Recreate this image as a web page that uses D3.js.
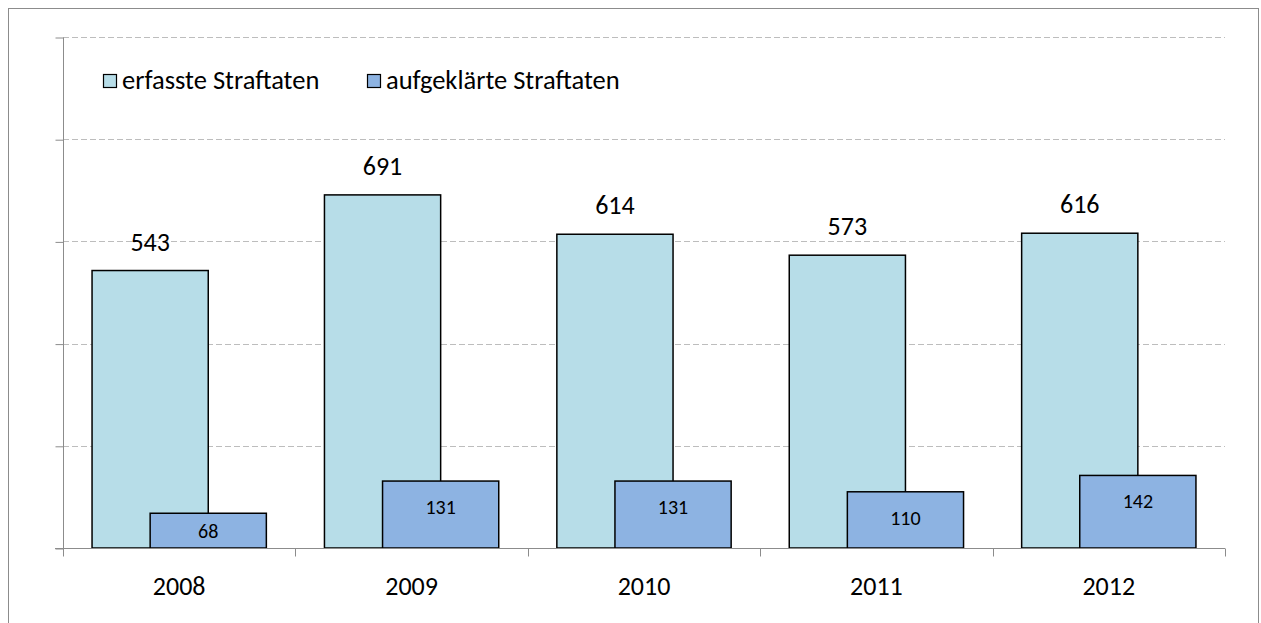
<!DOCTYPE html>
<html>
<head>
<meta charset="utf-8">
<script src="https://cdn.jsdelivr.net/npm/d3@7"></script>
<style>
  body { margin: 0; background: #fff; }
  text { font-family: Carlito, Calibri, Lato, sans-serif; fill: #000; }
</style>
</head>
<body>
<div id="main"></div>
<script>
var years = ["2008", "2009", "2010", "2011", "2012"];
var erfasst = [543, 691, 614, 573, 616];
var aufgeklaert = [68, 131, 131, 110, 142];
var seriesNames = ["erfasste Straftaten", "aufgeklärte Straftaten"];
var yTicks = [0, 200, 400, 600, 800, 1000];

var colors = ["#B7DDE8", "#8DB3E2"];

var svg = d3.select("#main").append("svg")
  .attr("width", 1261)
  .attr("height", 623);

// outer frame
svg.append("rect")
  .attr("x", 8.5).attr("y", 8.5)
  .attr("width", 1250).attr("height", 620)
  .attr("fill", "none")
  .attr("stroke", "#8c8c8c")
  .attr("stroke-width", 1);

var plotLeft = 63, plotRight = 1225, plotTop = 37, plotBottom = 548;

var x = d3.scaleBand().domain(years).range([plotLeft, plotRight]);
var y = d3.scaleLinear().domain([0, 1000]).range([plotBottom, plotTop]);

// gridlines
svg.append("g").selectAll("line").data(yTicks.slice(1)).enter().append("line")
  .attr("x1", plotLeft).attr("x2", plotRight)
  .attr("y1", function(d) { return Math.round(y(d)) + 0.5; })
  .attr("y2", function(d) { return Math.round(y(d)) + 0.5; })
  .attr("stroke", "#bdbdbd")
  .attr("stroke-dasharray", "6,3");

// y axis (no labels)
var yAxis = d3.axisLeft(y).tickValues(yTicks).tickSize(8).tickFormat("");
var gy = svg.append("g").attr("transform", "translate(" + (plotLeft + 0.5) + ",0.5)").call(yAxis);
gy.select(".domain").attr("stroke", "#8c8c8c").attr("d", "M0," + plotTop + "V" + plotBottom);
gy.selectAll(".tick line").attr("stroke", "#8c8c8c");

var w = x.bandwidth();

// bars: erfasste
svg.append("g").selectAll("rect").data(erfasst).enter().append("rect")
  .attr("x", function(d, i) { return x(years[i]) + w * 0.125; })
  .attr("y", function(d) { return y(d); })
  .attr("width", w * 0.5)
  .attr("height", function(d) { return plotBottom - y(d); })
  .attr("fill", colors[0])
  .attr("stroke", "#000")
  .attr("stroke-width", 1.5);

// bars: aufgeklärte
svg.append("g").selectAll("rect").data(aufgeklaert).enter().append("rect")
  .attr("x", function(d, i) { return x(years[i]) + w * 0.375; })
  .attr("y", function(d) { return y(d); })
  .attr("width", w * 0.5)
  .attr("height", function(d) { return plotBottom - y(d); })
  .attr("fill", colors[1])
  .attr("stroke", "#000")
  .attr("stroke-width", 1.5);

// x axis
var xAxis = d3.axisBottom(x).tickSize(0).tickFormat("");
var gx = svg.append("g").attr("transform", "translate(0," + (plotBottom + 0.5) + ")").call(xAxis);
gx.select(".domain").attr("stroke", "#8c8c8c").attr("d", "M" + (plotLeft - 8) + ",0H" + plotRight);
var bounds = years.map(function(d) { return x(d); }).concat([plotRight]);
gx.selectAll(".bt").data(bounds).enter().append("line")
  .attr("x1", function(d) { return Math.round(d) + 0.5; })
  .attr("x2", function(d) { return Math.round(d) + 0.5; })
  .attr("y1", 0).attr("y2", 8)
  .attr("stroke", "#8c8c8c");
svg.append("g").selectAll("text").data(years).enter().append("text")
  .attr("x", function(d) { return x(d) + w / 2; })
  .attr("y", 595)
  .attr("text-anchor", "middle")
  .style("font-size", "26px")
  .text(function(d) { return d; });

// value labels
svg.append("g").selectAll("text").data(erfasst).enter().append("text")
  .attr("x", function(d, i) { return x(years[i]) + w * 0.375; })
  .attr("y", function(d) { return y(d) - 20; })
  .attr("text-anchor", "middle")
  .style("font-size", "26px")
  .text(function(d) { return d; });

svg.append("g").selectAll("text").data(aufgeklaert).enter().append("text")
  .attr("x", function(d, i) { return x(years[i]) + w * 0.625; })
  .attr("y", function(d) { return Math.min((y(d) + plotBottom) / 2, y(d) + 26); })
  .attr("dy", "0.35em")
  .attr("text-anchor", "middle")
  .style("font-size", "20px")
  .text(function(d) { return d; });

// legend
var legendX = [103, 367];
var legend = svg.selectAll(".legend").data(seriesNames).enter().append("g")
  .attr("class", "legend")
  .attr("transform", function(d, i) { return "translate(" + legendX[i] + ",74)"; });
legend.append("rect")
  .attr("x", 0.5).attr("y", 0.5)
  .attr("width", 13).attr("height", 13)
  .attr("fill", function(d, i) { return colors[i]; })
  .attr("stroke", "#000")
  .attr("stroke-width", 1.2);
legend.append("text")
  .attr("x", 19).attr("y", 15)
  .style("font-size", "26.5px")
  .text(function(d) { return d; });
</script>
</body>
</html>
